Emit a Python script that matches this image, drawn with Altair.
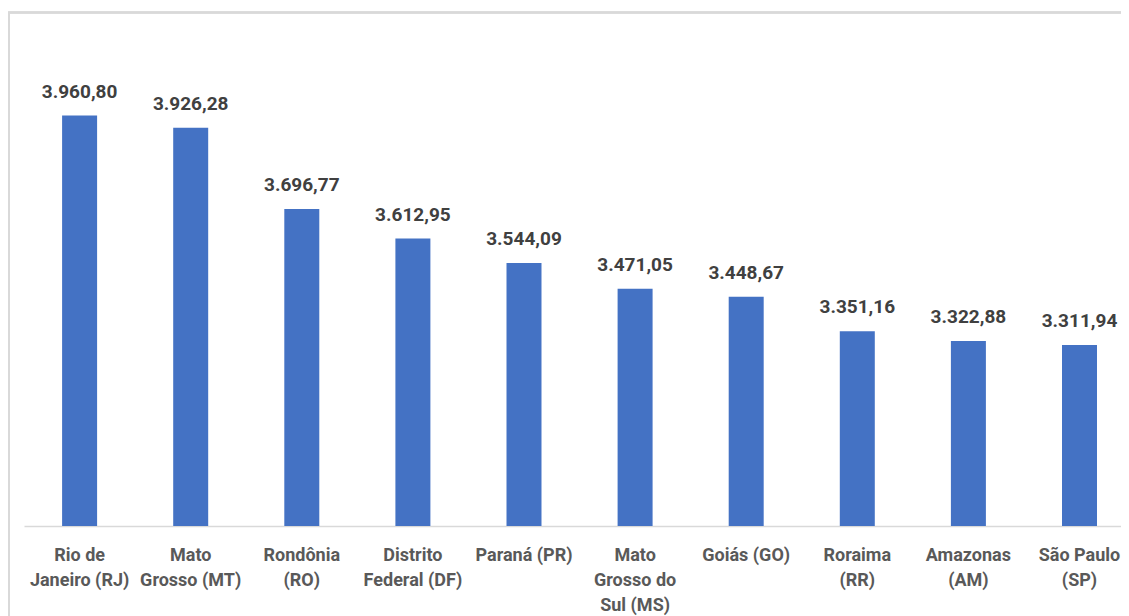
import altair as alt
import pandas as pd

estados = [
    "Rio de\nJaneiro (RJ)",
    "Mato\nGrosso (MT)",
    "Rondônia\n(RO)",
    "Distrito\nFederal (DF)",
    "Paraná (PR)",
    "Mato\nGrosso do\nSul (MS)",
    "Goiás (GO)",
    "Roraima\n(RR)",
    "Amazonas\n(AM)",
    "São Paulo\n(SP)",
]
valores = [3960.80, 3926.28, 3696.77, 3612.95, 3544.09, 3471.05, 3448.67, 3351.16, 3322.88, 3311.94]
eixo_min = 2800
eixo_max = 4200

df = pd.DataFrame({"estado": estados, "valor": valores})

FONT = "Roboto"

x = alt.X(
    "estado:N",
    sort=estados,
    scale=alt.Scale(paddingInner=0.685, paddingOuter=0.2795, align=0.6135),
    axis=alt.Axis(
        title=None,
        labelAngle=0,
        labelExpr="split(datum.label, '\\n')",
        labelFont=FONT,
        labelFontSize=18,
        labelFontWeight="bold",
        labelColor="#595959",
        labelLineHeight=25,
        labelBaseline="top",
        labelPadding=20,
        labelLimit=0,
        ticks=False,
        domainColor="#d9d9d9",
        domainWidth=1.5,
        grid=False,
    ),
)
y = alt.Y(
    "valor:Q",
    scale=alt.Scale(domain=[eixo_min, eixo_max], zero=False, nice=False),
    axis=None,
)

border = alt.Chart(df).mark_rect(
    fill=None, stroke="#d9d9d9", strokeWidth=1.5
).encode(
    x=alt.value(-15), x2=alt.value(1300), y=alt.value(-18.5), y2=alt.value(800)
)

bars = alt.Chart(df).mark_bar(color="#4472c4").encode(
    x=x, y=y, y2=alt.datum(eixo_min)
)

labels = alt.Chart(df).transform_calculate(
    rotulo="replace(replace(replace(format(datum.valor, ',.2f'), ',', '#'), '.', ','), '#', '.')"
).mark_text(
    font=FONT, fontSize=19, fontWeight="bold", color="#404040",
    baseline="alphabetic", dy=-18,
).encode(x=x, y=y, text="rotulo:N")

chart = alt.layer(border, bars, labels).properties(
    width=1097,
    height=495,
    background="white",
    autosize=alt.AutoSizeParams(type="none"),
    padding={"left": 16, "top": 23, "right": 0, "bottom": 90},
).configure_view(strokeWidth=0, stroke="transparent")

chart.save("out.html", embed_options={"renderer": "svg", "actions": False})
